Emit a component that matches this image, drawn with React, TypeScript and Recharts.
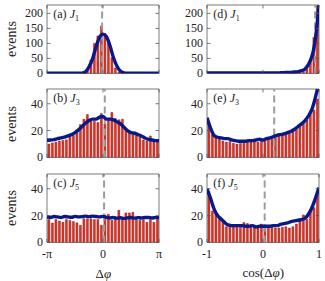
import React from 'react';
import { ComposedChart, Bar, Line, XAxis, YAxis, ReferenceLine, ReferenceArea } from 'recharts';

const PI = Math.PI;

// histogram heights, 32 bins per panel
const barsA = [0, 0, 0, 0, 0, 0, 0, 0, 0, 0, 2, 12, 45, 100, 125, 158, 132, 100, 52, 18, 4, 1, 0, 0, 0, 0, 0, 0, 0, 0, 0, 0];
const barsB = [10, 10.8, 11.5, 12.2, 12.6, 13.2, 15.5, 16.3, 18.5, 24.5, 28.5, 32, 28.5, 27, 26, 32.8, 25, 29, 33.5, 29, 28, 28.5, 20.5, 18, 16.8, 16.3, 15.5, 13, 12.3, 16, 12.3, 11.4];
const barsC = [17, 14.4, 17, 16, 15, 17, 16.4, 15.6, 14.6, 12.7, 17.6, 17.6, 17.6, 17, 17, 12.8, 20.5, 21, 16.5, 18.5, 24, 18, 22, 22, 22.5, 17, 16.5, 17, 15, 17, 15, 17];
const barsD = [0, 0, 0, 0, 0, 0, 0, 0, 0, 0, 0, 0, 0, 0, 0, 0, 0, 0, 0, 0, 0, 0, 0, 0, 1, 2, 3, 6, 17, 45, 120, 225];
const barsE = [25.4, 16.8, 14.8, 13.8, 12.3, 11.4, 11.9, 10.6, 9.9, 10.4, 10.6, 11.4, 11.9, 11.9, 11.4, 12.3, 13, 14.3, 13.6, 14.8, 15.6, 16.8, 17.5, 18.8, 19.8, 21, 24.2, 26.7, 27.9, 32, 35.3, 43.5];
const barsF = [38, 23.4, 22.2, 18.5, 16, 11.7, 13.7, 12.4, 13, 11.2, 14.9, 14.1, 12.4, 11.2, 12.4, 13.7, 13, 11.7, 11.2, 10.7, 10.7, 11.2, 11.7, 10.7, 11.7, 13.7, 17.8, 20.5, 17.3, 23.4, 25.9, 38];

// model curve, read at the 33 bin edges
const lineA = [0.5, 0.5, 0.5, 0.5, 0.5, 0.5, 0.5, 0.5, 0.5, 0.5, 1, 5, 22, 48, 88, 120, 131, 122, 92, 52, 24, 7, 2, 0.5, 0.5, 0.5, 0.5, 0.5, 0.5, 0.5, 0.5, 0.5, 0.5];
const lineB = [12.8, 13, 13.3, 14, 14.5, 15.2, 16, 17, 18.5, 20.5, 23, 25.5, 27.5, 28.5, 28.5, 30, 30.5, 28.5, 28.5, 28, 26.5, 25, 22.5, 20, 18.5, 18, 17, 16, 14.5, 13.5, 13, 12.5, 12.5];
const lineC = [19, 18.6, 19.3, 19, 18.5, 19.3, 19, 18.7, 19.4, 19, 19.2, 19.6, 19.2, 19.6, 19.3, 19, 19.4, 18.6, 18.2, 18.6, 18.1, 18.4, 17.9, 18.3, 18.6, 18.1, 18.5, 18.2, 18.6, 18.6, 18.2, 18.5, 18.5];
const lineD = [1.5, 1.5, 1.5, 1.5, 1.5, 1.5, 1.5, 1.5, 1.5, 1.5, 1.5, 1.5, 1.5, 1.5, 1.5, 1.5, 1.5, 1.5, 1.5, 1.5, 1.5, 2, 2.5, 3, 3.5, 4.5, 6, 9, 15, 30, 58, 118, 230];
const lineE = [29.5, 22, 16.5, 15, 14.5, 14, 14, 13, 12.5, 12, 12, 12, 12.5, 12.5, 13, 13.5, 13, 14, 14.5, 15.5, 16.5, 17, 17.5, 18.5, 19.5, 21, 23, 25, 27.5, 31, 36, 45, 56];
const lineF = [40, 33, 25, 20, 17.5, 15, 13, 12.5, 12.5, 12.5, 12.5, 12, 12, 12.5, 11.5, 12, 12, 12, 12, 12.5, 12.5, 13.5, 14, 14.5, 15.5, 16, 16.5, 17, 18, 21, 26, 33, 41];
// extra curve points near cos = 1 for panel (d)
const lineDExtra: [number, number][] = [[0.90625, 82], [0.96875, 168]];

const phiTicks = [-PI, 0, PI];
const phiLabels = ['-π', '0', 'π'];
const cosTicks = [-1, 0, 1];
const cosLabels = ['-1', '0', '1'];
const yTicksTop = [0, 50, 100, 150, 200];
const yTicksLow = [0, 20, 40];

const PW = 112;
const PH = 68.4;
const YW = 40;
const MT = 2;
const MR = 4;
const XH = 24;
const FONT = '"Liberation Serif", "DejaVu Serif", serif';

interface PanelProps {
  left: number;
  top: number;
  phi: boolean;
  bars: number[];
  line: number[];
  extra?: [number, number][];
  yMax: number;
  yTicks: number[];
  dash: number;
  tag: string;
  sub: string;
  showX: boolean;
}

function Panel({ left, top, phi, bars, line, extra = [], yMax, yTicks, dash, tag, sub, showX }: PanelProps) {
  const lo = phi ? -PI : -1;
  const hi = phi ? PI : 1;
  const w = (hi - lo) / bars.length;
  const barData = bars.map((v, i) => ({ x: lo + (i + 0.5) * w, v }));
  const lineData = line
    .map((l, k) => ({ x: lo + k * w, l }))
    .concat(extra.map(([x, l]) => ({ x, l })))
    .sort((a, b) => a.x - b.x);
  const xLabels = phi ? phiLabels : cosLabels;
  const L = YW;
  const R = YW + PW;
  const T = MT;
  const B = MT + PH;

  const XTick = (p: any) => (
    <g>
      <line x1={p.x} x2={p.x} y1={T} y2={T + 3.5} stroke="#555" strokeWidth={0.8} />
      <line x1={p.x} x2={p.x} y1={B} y2={B - 3.5} stroke="#555" strokeWidth={0.8} />
      {showX && (
        <text x={p.x} y={B + 16} textAnchor="middle" fontSize={12} fill="#222">
          {xLabels[p.index]}
        </text>
      )}
    </g>
  );
  const YTick = (p: any) => (
    <g>
      <line x1={L} x2={L + 3.5} y1={p.y} y2={p.y} stroke="#555" strokeWidth={0.8} />
      <line x1={R - 3.5} x2={R} y1={p.y} y2={p.y} stroke="#555" strokeWidth={0.8} />
      <text x={L - 4} y={p.y + 4} textAnchor="end" fontSize={12} fill="#222">
        {p.payload.value}
      </text>
    </g>
  );

  return (
    <div style={{ position: 'absolute', left: left - YW, top: top - MT }}>
      <ComposedChart width={YW + PW + MR} height={MT + PH + XH} data={barData} barCategoryGap={0} barGap={0} margin={{ top: MT, right: MR, bottom: 0, left: 0 }}>
        <XAxis dataKey="x" type="number" domain={[lo, hi]} ticks={phi ? phiTicks : cosTicks} interval={0} tick={XTick} tickLine={false} axisLine={false} height={XH} allowDataOverflow />
        <YAxis type="number" domain={[0, yMax]} ticks={yTicks} interval={0} tick={YTick} tickLine={false} axisLine={false} width={YW} allowDataOverflow />
        <Bar dataKey="v" fill="#ff2a1a" stroke="#2a0a05" strokeWidth={0.35} isAnimationActive={false} />
        <ReferenceLine x={dash} stroke="#9c9c9c" strokeWidth={2} strokeDasharray="7 4" />
        <Line data={lineData} dataKey="l" type="monotone" stroke="#0a1888" strokeWidth={3.4} dot={false} isAnimationActive={false} />
        <ReferenceArea x1={lo} x2={hi} y1={0} y2={yMax} fill="none" stroke="#7a7a7a" strokeWidth={1} />
      </ComposedChart>
      <div style={{ position: 'absolute', left: YW + 6, top: MT + 2, fontSize: 12, color: '#222', whiteSpace: 'nowrap' }}>
        {tag} <i>J</i>
        <sub style={{ fontSize: 8 }}>{sub}</sub>
      </div>
    </div>
  );
}

const rowTops = [4.8, 89.3, 173.6];
const colLefts = [47.3, 207.3];

export default function App() {
  return (
    <div style={{ position: 'absolute', left: 0, top: 0, width: 325, height: 281, background: '#fff', fontFamily: FONT, overflow: 'hidden' }}>
      <Panel left={colLefts[0]} top={rowTops[0]} phi bars={barsA} line={lineA} yMax={228} yTicks={yTicksTop} dash={-0.05} tag="(a)" sub="1" showX={false} />
      <Panel left={colLefts[0]} top={rowTops[1]} phi bars={barsB} line={lineB} yMax={51} yTicks={yTicksLow} dash={0.1} tag="(b)" sub="3" showX={false} />
      <Panel left={colLefts[0]} top={rowTops[2]} phi bars={barsC} line={lineC} yMax={51} yTicks={yTicksLow} dash={0.06} tag="(c)" sub="5" showX />
      <Panel left={colLefts[1]} top={rowTops[0]} phi={false} bars={barsD} line={lineD} extra={lineDExtra} yMax={228} yTicks={yTicksTop} dash={0.93} tag="(d)" sub="1" showX={false} />
      <Panel left={colLefts[1]} top={rowTops[1]} phi={false} bars={barsE} line={lineE} yMax={51} yTicks={yTicksLow} dash={0.2} tag="(e)" sub="3" showX={false} />
      <Panel left={colLefts[1]} top={rowTops[2]} phi={false} bars={barsF} line={lineF} yMax={51} yTicks={yTicksLow} dash={0.03} tag="(f)" sub="5" showX />
      {[rowTops[0], rowTops[1], rowTops[2]].map((t, i) => (
        <div key={i} style={{ position: 'absolute', left: 12, top: t + PH / 2, transform: 'translate(-50%, -50%) rotate(-90deg)', fontSize: 14, color: '#222' }}>
          events
        </div>
      ))}
      <div style={{ position: 'absolute', left: 103.3, top: 274, transform: 'translate(-50%, -50%)', fontSize: 13, color: '#222' }}>
        Δ<i>φ</i>
      </div>
      <div style={{ position: 'absolute', left: 263.3, top: 273, transform: 'translate(-50%, -50%)', fontSize: 13, color: '#222', whiteSpace: 'nowrap' }}>
        cos(Δ<i>φ</i>)
      </div>
    </div>
  );
}
